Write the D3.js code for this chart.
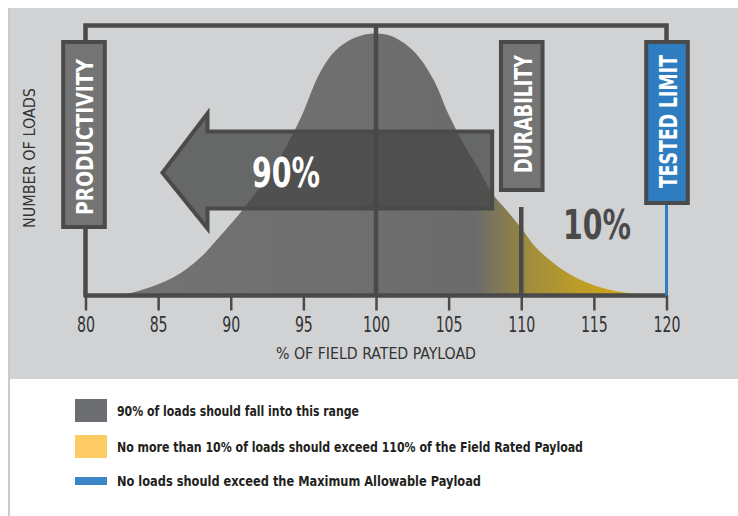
<!DOCTYPE html>
<html><head><meta charset="utf-8">
<script src="https://cdn.jsdelivr.net/npm/d3@7"></script>
<style>html,body{margin:0;padding:0;background:#fff;} svg{display:block;}</style>
</head><body><svg id="c" width="738" height="516"></svg>
<script>
// ---------- data ----------
const payloadPct = [80,81,82,83,84,85,86,87,88,89,90,91,92,93,94,95,96,97,98,99,100,
                    101,102,103,104,105,106,107,108,109,110,111,112,113,114,115,116,117,118,119,120];
const loadCount  = [0,0,0.2,0.8,2.3,4.2,6.6,10.0,14.5,20.4,26.5,33.0,40.0,47.5,57.0,68.0,81.0,89.5,94.0,96.3,97.0,
                    96.2,93.2,88.0,79.5,67.0,56.5,47.5,37.8,31.5,25.0,17.8,13.0,9.0,6.0,3.8,2.2,1.2,0.5,0.1,0];
const xTickValues = [80,85,90,95,100,105,110,115,120];
const xTitle = "% OF FIELD RATED PAYLOAD";
const yTitle = "NUMBER OF LOADS";
const zoneLabels = ["PRODUCTIVITY","DURABILITY","TESTED LIMIT"];
const zoneAt = [80,110,120];
const shareLabels = ["90%","10%"];
const legendLabels = ["90% of loads should fall into this range",
                      "No more than 10% of loads should exceed 110% of the Field Rated Payload",
                      "No loads should exceed the Maximum Allowable Payload"];
// arrow outline in data units (payload %, loads)
const arrowPts = [[85.3,45.5],[88.4,67.4],[88.4,60.7],[108,60.7],[108,32.2],[88.4,32.2],[88.4,24.8]];

// ---------- setup ----------
const FONT = "'Liberation Sans Narrow','Arial Narrow','DejaVu Sans Condensed','Roboto Condensed',sans-serif";
const svg = d3.select("#c");
const x = d3.scaleLinear().domain([80,120]).range([85.5,666.5]);
const y = d3.scaleLinear().domain([0,100]).range([295.5,25.5]);
const DARK = "#4a4a4a", BLUE = "#2f7dc1";

// panel
svg.append("rect").attr("x",10).attr("y",8).attr("width",728).attr("height",371).attr("fill","#d1d2d4");
svg.append("line").attr("x1",9).attr("x2",9).attr("y1",8).attr("y2",516).attr("stroke","#c9cacc").attr("stroke-width",2);

// gradient
const defs = svg.append("defs");
const grad = defs.append("linearGradient").attr("id","g").attr("gradientUnits","userSpaceOnUse")
  .attr("x1",x(80)).attr("x2",x(120)).attr("y1",0).attr("y2",0);
[[80,"#747474"],[100,"#6e6e6e"],[106.8,"#6b6b6b"],[109.8,"#8f8245"],[110.5,"#a08d3c"],[114,"#bd9c28"],[118,"#d6a913"]]
  .forEach(([v,c])=>grad.append("stop").attr("offset",(x(v)-x(80))/(x(120)-x(80))).attr("stop-color",c));

// curve
const data = payloadPct.map((p,i)=>({p, v: loadCount[i]}));
svg.append("path").datum(data)
  .attr("d", d3.area().x(d=>x(d.p)).y0(y(0)).y1(d=>y(d.v)).curve(d3.curveCatmullRom.alpha(0.5)))
  .attr("fill","url(#g)");

// frame
svg.append("path")
  .attr("d",`M${x(80)},${y(0)}V${y(100)}H${x(120)}V42`)
  .attr("fill","none").attr("stroke",DARK).attr("stroke-width",4.5);
svg.append("line").attr("x1",x(80)-2).attr("x2",x(120)).attr("y1",y(0)).attr("y2",y(0))
  .attr("stroke",DARK).attr("stroke-width",4.5);
svg.append("line").attr("x1",x(100)).attr("x2",x(100)).attr("y1",y(100)).attr("y2",y(0))
  .attr("stroke",DARK).attr("stroke-width",4.5);
svg.append("line").attr("x1",x(110)).attr("x2",x(110)).attr("y1",207).attr("y2",y(0))
  .attr("stroke",DARK).attr("stroke-width",4.5);
svg.append("line").attr("x1",x(120)).attr("x2",x(120)).attr("y1",204).attr("y2",y(0)+1)
  .attr("stroke",BLUE).attr("stroke-width",3);

// axis
const ax = svg.append("g").attr("transform",`translate(0,${y(0)})`)
  .call(d3.axisBottom(x).tickValues(xTickValues).tickSize(15).tickSizeOuter(0).tickPadding(7));
ax.select(".domain").remove();
ax.selectAll(".tick line").attr("stroke",DARK).attr("stroke-width",2.5);
ax.selectAll(".tick text").attr("fill","#333").style("font-family",FONT).style("font-size","21px")
  .attr("textLength",d=>String(d).length*9).attr("lengthAdjust","spacingAndGlyphs");

// axis titles
svg.append("text").attr("x",x(100)).attr("y",353.5).attr("dy","0.36em").attr("text-anchor","middle")
  .attr("textLength",200).attr("lengthAdjust","spacingAndGlyphs")
  .style("font-family",FONT).style("font-size","16px").attr("fill","#333").text(xTitle);
svg.append("text").attr("transform","translate(29,158) rotate(-90)").attr("dy","0.36em").attr("text-anchor","middle")
  .attr("textLength",140).attr("lengthAdjust","spacingAndGlyphs")
  .style("font-family",FONT).style("font-size","16px").attr("fill","#333").text(yTitle);

// arrow
svg.append("path")
  .attr("d", d3.line().x(d=>x(d[0])).y(d=>y(d[1]))(arrowPts)+"Z")
  .attr("fill","rgb(70,70,70)").attr("fill-opacity",0.77)
  .attr("stroke",DARK).attr("stroke-width",4).attr("stroke-linejoin","miter");

// zone boxes
const boxes = [
  {cx: x(zoneAt[0])-1.5, y0:42, h:185, fill:"#747474", ty:137, len:156, fs:23},
  {cx: x(zoneAt[1])+0.5, y0:42, h:148, fill:"#747474", ty:114, len:118, fs:25},
  {cx: x(zoneAt[2])+0.5, y0:42, h:161, fill:BLUE,      ty:121.5, len:133, fs:24}
];
boxes.forEach((b,i)=>{
  svg.append("rect").attr("x",b.cx-20.8).attr("y",b.y0).attr("width",41.6).attr("height",b.h)
    .attr("fill",b.fill).attr("stroke",DARK).attr("stroke-width",4);
  svg.append("text").attr("transform",`translate(${b.cx+1},${b.ty}) rotate(-90)`)
    .attr("dy","0.36em").attr("text-anchor","middle")
    .attr("textLength",b.len).attr("lengthAdjust","spacingAndGlyphs")
    .style("font-family",FONT).style("font-size",b.fs+"px").style("font-weight","bold")
    .attr("fill","#fff").text(zoneLabels[i]);
});

// share labels
svg.append("text").attr("x",286).attr("y",172).attr("dy","0.36em").attr("text-anchor","middle")
  .attr("textLength",68).attr("lengthAdjust","spacingAndGlyphs")
  .style("font-family",FONT).style("font-size","41px").style("font-weight","bold").attr("fill","#fff").text(shareLabels[0]);
svg.append("text").attr("x",597).attr("y",224.5).attr("dy","0.36em").attr("text-anchor","middle")
  .attr("textLength",68).attr("lengthAdjust","spacingAndGlyphs")
  .style("font-family",FONT).style("font-size","41px").style("font-weight","bold").attr("fill",DARK).text(shareLabels[1]);

// legend
const legendColors = ["#6d6e71","#fdcb63","#3d86c6"];
const legRows = [{ry:399,rh:23,ty:411,len:242},{ry:435,rh:23,ty:447,len:466},{ry:477,rh:8,ty:481,len:364}];
legRows.forEach((r,i)=>{
  svg.append("rect").attr("x",75).attr("y",r.ry).attr("width",32).attr("height",r.rh).attr("fill",legendColors[i]);
  svg.append("text").attr("x",117).attr("y",r.ty).attr("dy","0.36em")
    .attr("textLength",r.len).attr("lengthAdjust","spacingAndGlyphs")
    .style("font-family",FONT).style("font-size","14.5px").style("font-weight","bold")
    .attr("fill","#231f20").text(legendLabels[i]);
});
</script></body></html>
